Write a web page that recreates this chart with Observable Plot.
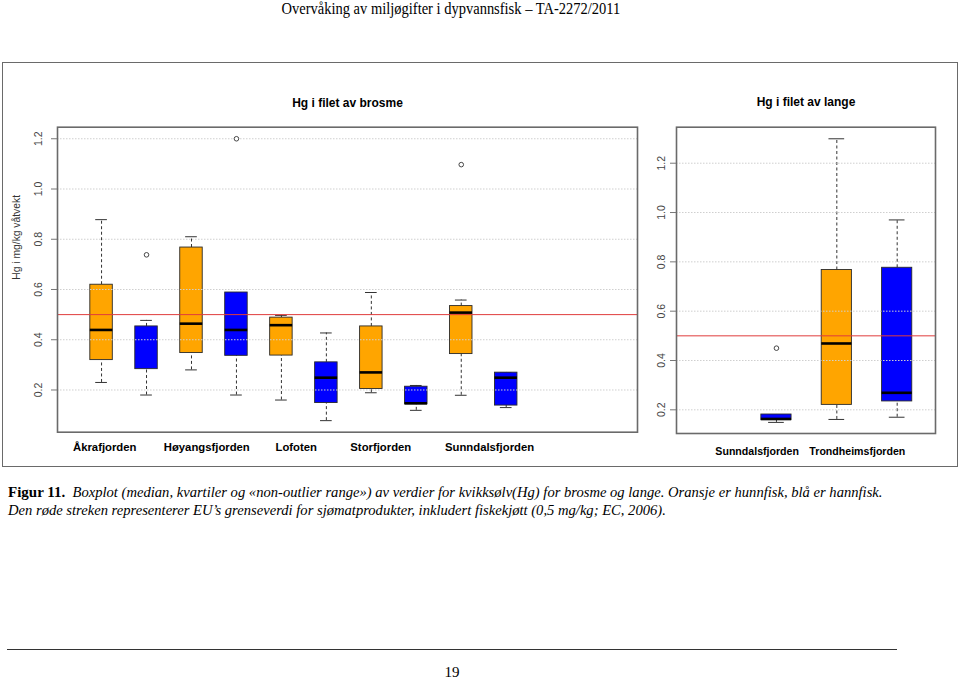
<!DOCTYPE html>
<html>
<head>
<meta charset="utf-8">
<script src="https://cdn.jsdelivr.net/npm/d3@7"></script>
<script src="https://cdn.jsdelivr.net/npm/@observablehq/plot@0.6"></script>
<style>
  html, body { margin: 0; padding: 0; background: #fff; }
  body { width: 960px; height: 679px; position: relative; overflow: hidden;
         font-family: "Liberation Serif", "Times New Roman", serif; color: #000; }
  #header { position: absolute; top: 0; left: 0; width: 902px; text-align: center;
            font-size: 16px; line-height: 17px; }
  #header span { display: inline-block; transform: scaleX(0.906); transform-origin: center; white-space: nowrap; }
  #frame { position: absolute; left: 2px; top: 62px; width: 956px; height: 405px;
           border: 1.5px solid #6a6a6a; box-sizing: border-box; }
  #left { position: absolute; left: 0; top: 62px; }
  #right { position: absolute; left: 650px; top: 62px; }
  #caption { position: absolute; left: 8px; top: 483px; width: 950px; font-size: 14.6px; line-height: 18px;
             white-space: nowrap; }
  #caption b { font-style: normal; font-size: 15px; }
  #caption i { font-style: italic; }
  #rule { position: absolute; left: 7px; top: 649px; width: 890px; height: 0; border-top: 1.5px solid #333; }
  #page { position: absolute; left: 0; top: 664px; width: 904px; text-align: center; font-size: 15px; line-height: 17px; }
</style>
</head>
<body>
<div id="header"><span>Overvåking av miljøgifter i dypvannsfisk – TA-2272/2011</span></div>
<div id="frame"></div>
<div id="left"></div>
<div id="right"></div>
<div id="caption"><b>Figur 11.</b>&nbsp; <i>Boxplot (median, kvartiler og «non-outlier range») av verdier for kvikksølv(Hg) for brosme og lange. Oransje er hunnfisk, blå er hannfisk.</i><br><i>Den røde streken representerer EU’s grenseverdi for sjømatprodukter, inkludert fiskekjøtt (0,5 mg/kg; EC, 2006).</i></div>
<div id="rule"></div>
<div id="page">19</div>
<script>
// ---------- data ----------
const yTicks = [0.2, 0.4, 0.6, 0.8, 1.0, 1.2];
const grenseverdi = 0.5;
const sexes = ["hunn", "hann"];
const sexColors = ["#FFA500", "#0000FF"];

// each box: [lower whisker, Q1, median, Q3, upper whisker]
const brosmeSites = ["Åkrafjorden", "Høyangsfjorden", "Lofoten", "Storfjorden", "Sunndalsfjorden"];
const brosmeLabelPos = [1.07, 3.34, 5.33, 7.21, 9.63];
const brosmeHunn = [
  [0.230, 0.319, 0.439, 0.619, 0.878],
  [0.280, 0.347, 0.464, 0.767, 0.810],
  [0.160, 0.337, 0.458, 0.488, 0.497],
  [0.189, 0.204, 0.270, 0.453, 0.588],
  [0.179, 0.343, 0.508, 0.534, 0.558]
];
const brosmeHann = [
  [0.180, 0.283, null, 0.453, 0.477],
  [0.180, 0.336, 0.439, 0.588, 0.588],
  [0.078, 0.148, 0.249, 0.310, 0.427],
  [0.119, 0.143, 0.147, 0.213, 0.218],
  [0.130, 0.138, 0.249, 0.269, 0.269]
];
const brosmeHunnOut = [[], [], [], [], [1.097]];
const brosmeHannOut = [[0.738], [1.2], [], [], []];

const langeSites = ["Sunndalsfjorden", "Trondheimsfjorden"];
const langeLabelPos = [1.68, 3.34];
const langeHunn = [null, [0.161, 0.220, 0.469, 0.767, 1.299]];
const langeHann = [
  [0.149, 0.158, 0.163, 0.181, 0.181],
  [0.170, 0.234, 0.269, 0.776, 0.970]
];
const langeHunnOut = [[], []];
const langeHannOut = [[0.45], []];

// ---------- build tables ----------
function boxRows(hunn, hann) {
  const rows = [];
  [hunn, hann].forEach((series, s) => {
    series.forEach((b, i) => {
      if (!b) return;
      rows.push({pos: 2 * i + 1 + s, sex: sexes[s], lo: b[0], q1: b[1], med: b[2], q3: b[3], hi: b[4]});
    });
  });
  return rows;
}
function outRows(hunnOut, hannOut) {
  const rows = [];
  [hunnOut, hannOut].forEach((series, s) => {
    series.forEach((vals, i) => vals.forEach(v => rows.push({pos: 2 * i + 1 + s, sex: sexes[s], v})));
  });
  return rows;
}
function labelRows(sites, pos) { return sites.map((name, i) => ({name, pos: pos[i]})); }

function boxChart({rows, outliers, labels, xDomain, yDomain, width, height, margin, title, ylabel, tickPadding, labelDy, titleDy, labelSize}) {
  const half = 0.25, cap = 0.13;
  const marks = [
    Plot.ruleX(rows, {x: "pos", y1: "q3", y2: "hi", stroke: "#333", strokeWidth: 1, strokeDasharray: "3,2.5"}),
    Plot.ruleX(rows, {x: "pos", y1: "lo", y2: "q1", stroke: "#333", strokeWidth: 1, strokeDasharray: "3,2.5"}),
    Plot.ruleY(rows, {y: "hi", x1: d => d.pos - cap, x2: d => d.pos + cap, stroke: "#333", strokeWidth: 1}),
    Plot.ruleY(rows, {y: "lo", x1: d => d.pos - cap, x2: d => d.pos + cap, stroke: "#333", strokeWidth: 1}),
    Plot.rect(rows, {x1: d => d.pos - half, x2: d => d.pos + half, y1: "q1", y2: "q3", fill: "sex", stroke: "#2a2a2a", strokeWidth: 0.9}),
    Plot.gridY(yTicks, {stroke: "#cfcfcf", strokeOpacity: 1, strokeDasharray: "1.5,1.5"}),
    Plot.ruleY([grenseverdi], {stroke: "#e03c3c", strokeWidth: 1}),
    Plot.ruleY(rows.filter(d => d.med != null), {y: "med", x1: d => d.pos - half, x2: d => d.pos + half, stroke: "#000", strokeWidth: 2.6}),
    Plot.dot(outliers, {x: "pos", y: "v", r: 2.3, stroke: "#333", fill: "white", strokeWidth: 0.9}),
    Plot.frame({stroke: "#6a6a6a", strokeWidth: 1.6}),
    Plot.axisY(yTicks, {tickSize: 6, tickRotate: -90, tickPadding, tickFormat: d3.format(".1f"),
      fontSize: 10.5, fill: "#444", stroke: "#777", label: null}),
    Plot.text(labels, {x: "pos", text: "name", frameAnchor: "bottom", dy: labelDy, fontWeight: "bold", fontSize: labelSize, fill: "#000"}),
    Plot.text([title], {frameAnchor: "top", dy: titleDy, fontWeight: "bold", fontSize: 12, fill: "#000"})
  ];
  if (ylabel) {
    marks.push(Plot.text([ylabel], {frameAnchor: "left", dx: -41, rotate: -90, fontSize: 10.3, fill: "#333"}));
  }
  return Plot.plot({
    width, height,
    marginLeft: margin[0], marginRight: margin[1], marginTop: margin[2], marginBottom: margin[3],
    style: {fontFamily: "'Liberation Sans', Arial, sans-serif", background: "transparent", overflow: "visible"},
    x: {domain: xDomain, axis: null},
    y: {domain: yDomain, axis: null},
    color: {domain: sexes, range: sexColors},
    marks
  });
}

document.getElementById("left").appendChild(boxChart({
  rows: boxRows(brosmeHunn, brosmeHann),
  outliers: outRows(brosmeHunnOut, brosmeHannOut),
  labels: labelRows(brosmeSites, brosmeLabelPos),
  xDomain: [0.02, 12.92], yDomain: [0.032, 1.246],
  width: 650, height: 405, margin: [57, 13, 64.7, 35.3],
  title: "Hg i filet av brosme", ylabel: "Hg i mg/kg våtvekt", tickPadding: 10,
  labelDy: 19, titleDy: -29, labelSize: 11.3
}));
document.getElementById("right").appendChild(boxChart({
  rows: boxRows(langeHunn, langeHann),
  outliers: outRows(langeHunnOut, langeHannOut),
  labels: labelRows(langeSites, langeLabelPos),
  xDomain: [0.344, 4.635], yDomain: [0.104, 1.346],
  width: 308, height: 405, margin: [26, 23, 64.7, 34],
  title: "Hg i filet av lange", ylabel: null, tickPadding: 6,
  labelDy: 21, titleDy: -30, labelSize: 10.6
}));
</script>
</body>
</html>
